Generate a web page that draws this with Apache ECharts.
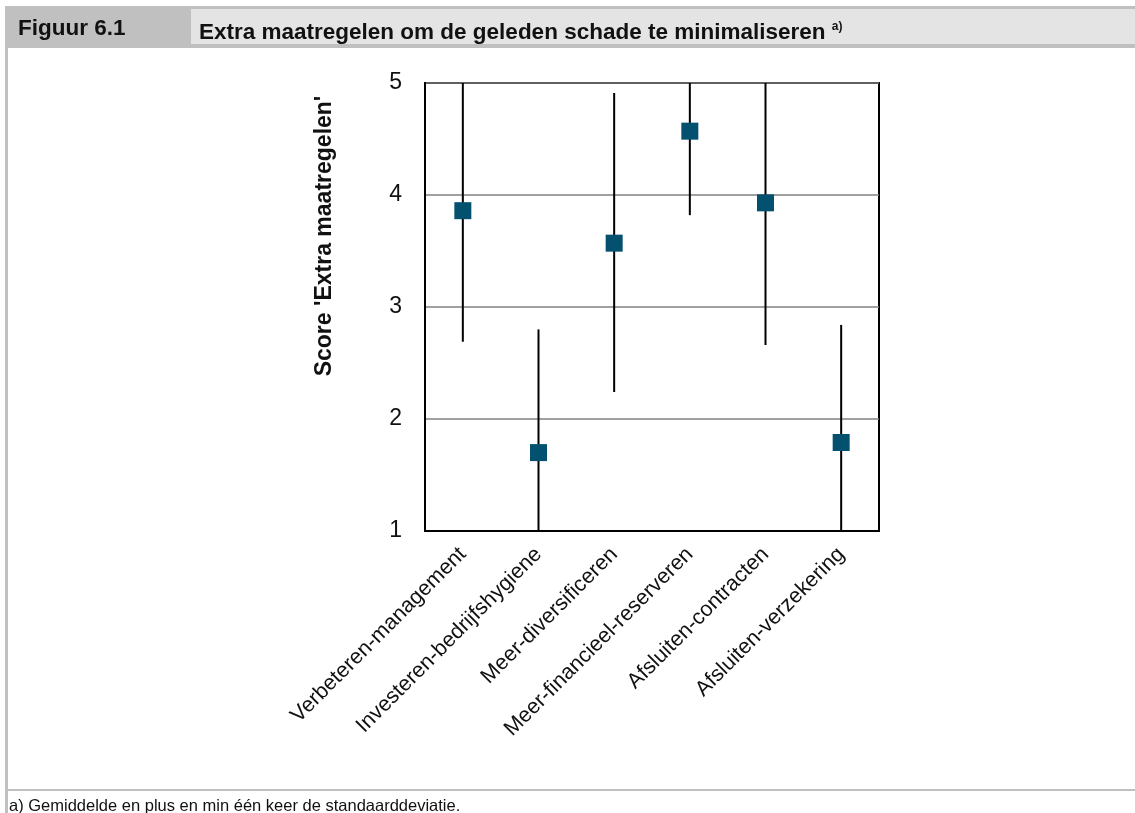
<!DOCTYPE html>
<html>
<head>
<meta charset="utf-8">
<script src="https://cdn.jsdelivr.net/npm/echarts@6/dist/echarts.min.js"></script>
<style>
  body { margin: 0; background: #fff; overflow: hidden; }
  #chart { position: absolute; left: 0; top: 0; width: 1135px; height: 813px; }
  .frame-left { position: absolute; left: 5px; top: 6px; width: 3px; height: 807px; background: #c0c0c0; }
  .head { position: absolute; left: 5px; top: 6px; width: 1130px; height: 42px; background: #c0c0c0; }
  .head-title { position: absolute; left: 186px; top: 3px; right: 0; height: 35px; background: #e4e4e4; }
  .head span { position: absolute; top: 0; line-height: 44px; font-family: "Liberation Sans", sans-serif; font-weight: bold; font-size: 22.5px; color: #111; white-space: nowrap; }
  .head-title span { line-height: 37px; top: -1px; }
  sup { font-size: 12px; vertical-align: 9px; }
  .foot-line { position: absolute; left: 5px; top: 789px; width: 1130px; height: 2px; background: #c0c0c0; }
  .foot { position: absolute; left: 9px; top: 796px; font-family: "Liberation Sans", sans-serif; font-size: 16.5px; color: #111; white-space: nowrap; }
</style>
</head>
<body>
<div id="chart"></div>
<div class="frame-left"></div>
<div class="head">
  <span style="left:13px">Figuur 6.1</span>
  <div class="head-title"><span style="left:8px">Extra maatregelen om de geleden schade te minimaliseren <sup>a)</sup></span></div>
</div>
<div class="foot-line"></div>
<div class="foot">a) Gemiddelde en plus en min één keer de standaarddeviatie.</div>
<script>
var categories = ['Verbeteren-management', 'Investeren-bedrijfshygiene', 'Meer-diversificeren',
  'Meer-financieel-reserveren', 'Afsluiten-contracten', 'Afsluiten-verzekering'];
var means = [3.86, 1.70, 3.57, 4.57, 3.93, 1.79];
var lows = [2.69, 0.60, 2.24, 3.82, 2.66, 0.74];
var highs = [5.03, 2.80, 4.91, 5.32, 5.20, 2.84];
var yTicks = [1, 2, 3, 4, 5];

var myChart = echarts.init(document.getElementById('chart'));

var barData = [];
for (var i = 0; i < categories.length; i++) {
  barData.push([i, lows[i], highs[i]]);
}

myChart.setOption({
  animation: false,
  grid: {
    left: 425,
    right: 256,
    top: 83,
    bottom: 282,
    show: true,
    borderColor: '#000',
    borderWidth: 2
  },
  graphic: [
    {
      type: 'text',
      x: 325,
      y: 236,
      rotation: Math.PI / 2,
      style: {
        text: "Score 'Extra maatregelen'",
        fontFamily: 'Liberation Sans',
        fontWeight: 'bold',
        fontSize: 23,
        fill: '#111',
        align: 'center',
        verticalAlign: 'middle'
      }
    }
  ],
  xAxis: {
    type: 'category',
    data: categories,
    boundaryGap: true,
    axisLine: { show: true, lineStyle: { color: '#000', width: 2 } },
    axisTick: { show: false },
    splitLine: { show: false },
    axisLabel: {
      rotate: 45,
      margin: 20,
      interval: 0,
      fontFamily: 'Liberation Sans',
      fontSize: 21.5,
      color: '#111'
    }
  },
  yAxis: {
    type: 'value',
    min: yTicks[0],
    max: yTicks[yTicks.length - 1],
    interval: 1,
    axisLine: { show: true, lineStyle: { color: '#000', width: 2 } },
    axisTick: { show: false },
    splitLine: { show: true, lineStyle: { color: '#808080', width: 1.5 } },
    axisLabel: {
      margin: 23,
      fontFamily: 'Liberation Sans',
      fontSize: 23,
      color: '#111'
    }
  },
  series: [
    {
      type: 'custom',
      clip: true,
      data: barData,
      renderItem: function (params, api) {
        var top = api.coord([api.value(0), api.value(2)]);
        var bottom = api.coord([api.value(0), api.value(1)]);
        return {
          type: 'line',
          shape: { x1: top[0], y1: top[1], x2: bottom[0], y2: bottom[1] },
          style: { stroke: '#000', lineWidth: 2 }
        };
      },
      z: 2
    },
    {
      type: 'scatter',
      data: means,
      symbol: 'rect',
      symbolSize: 17,
      itemStyle: { color: '#03506f', opacity: 1 },
      z: 3
    }
  ]
});
</script>
</body>
</html>
